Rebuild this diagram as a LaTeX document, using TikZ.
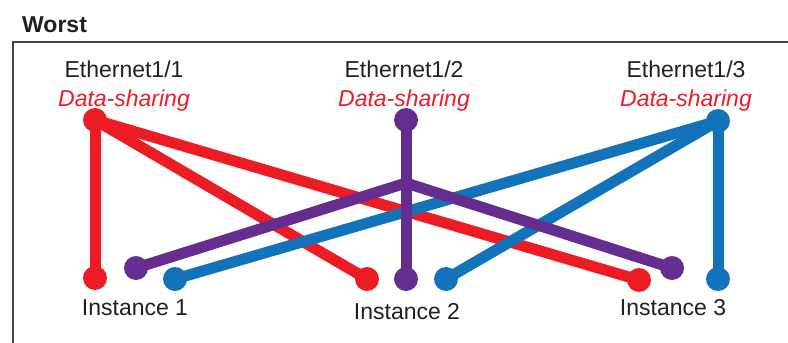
\documentclass[tikz,border=0pt]{standalone}
\usepackage{fontspec}
\setmainfont{Liberation Sans}
\definecolor{cred}{HTML}{ED1C24}
\definecolor{cpurple}{HTML}{662D91}
\definecolor{cblue}{HTML}{1273BB}
\definecolor{ctext}{HTML}{231F20}
\begin{document}
\begin{tikzpicture}[x=1pt,y=-1pt,
  dot/.style={circle,inner sep=0pt,minimum size=24pt},
  wire/.style={line width=11pt},
  lbl/.style={inner sep=0pt,anchor=base,text=ctext,font=\fontsize{23}{27}\selectfont},
  sub/.style={inner sep=0pt,anchor=base,text=cred,font=\fontsize{23}{27}\selectfont\itshape}]
\useasboundingbox (0,0) rectangle (788,343);
% frame
\draw[line width=2pt,color=ctext!85] (13,343) -- (13,42) -- (788,42);
\node[inner sep=0pt,anchor=base west,text=ctext,font=\fontsize{23}{27}\selectfont\bfseries] (title) at (22,32) {Worst};
% labels
\node[lbl] (e1) at (124,77) {Ethernet1/1};
\node[sub] (d1) at (124,106) {Data-sharing};
\node[lbl] (e2) at (404,77) {Ethernet1/2};
\node[sub] (d2) at (404,106) {Data-sharing};
\node[lbl] (e3) at (686,77) {Ethernet1/3};
\node[sub] (d3) at (686,106) {Data-sharing};
\node[lbl] (i1) at (135,315) {Instance 1};
\node[lbl] (i2) at (407,319) {Instance 2};
\node[lbl] (i3) at (673,315) {Instance 3};
% coordinates
\coordinate (R0) at (95,120);
\coordinate (P0) at (406,120);
\coordinate (B0) at (718,121);
\coordinate (PJ) at (406,183);
\coordinate (R1) at (95,278);
\coordinate (P1) at (136,268);
\coordinate (B1) at (175,279);
\coordinate (R2) at (367,279);
\coordinate (P2) at (406,279);
\coordinate (B2) at (446,279);
\coordinate (R3) at (639,280);
\coordinate (P3) at (672,268);
\coordinate (B3) at (718,279);
% red
\draw[wire,cred] (R0) -- (R1);
\draw[wire,cred] (R0) -- (R2);
\draw[wire,cred] (R0) -- (R3);
\foreach \n in {R0,R1,R2,R3} \node[dot,fill=cred] (d\n) at (\n) {};
% blue
\draw[wire,cblue] (B0) -- (B1);
\draw[wire,cblue] (B0) -- (B2);
\draw[wire,cblue] (B0) -- (B3);
\foreach \n in {B0,B1,B2,B3} \node[dot,fill=cblue] (d\n) at (\n) {};
% purple
\draw[wire,cpurple] (P0) -- (P2);
\draw[wire,cpurple,line join=round] (P1) -- (PJ) -- (P3);
\foreach \n in {P0,P1,P2,P3} \node[dot,fill=cpurple] (d\n) at (\n) {};
\end{tikzpicture}
\end{document}
